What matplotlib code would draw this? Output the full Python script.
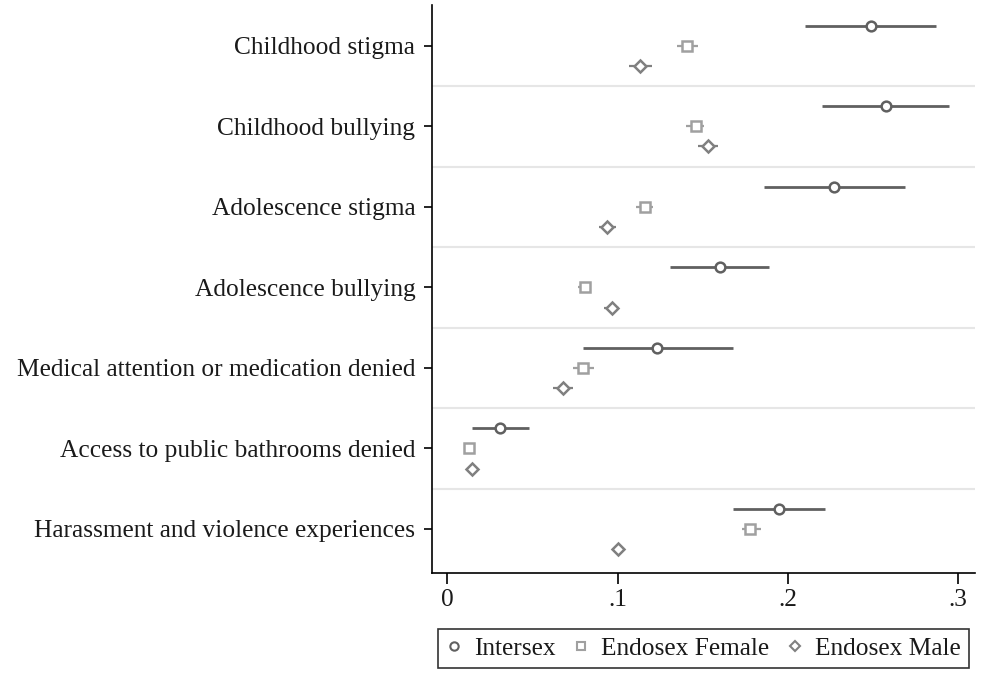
import numpy as np
import matplotlib.pyplot as plt

plt.rcParams['font.family'] = ['Liberation Serif', 'DejaVu Serif']

categories = ["Childhood stigma", "Childhood bullying", "Adolescence stigma",
              "Adolescence bullying", "Medical attention or medication denied",
              "Access to public bathrooms denied", "Harassment and violence experiences"]

# point estimates and confidence bounds
intersex = [0.249, 0.258, 0.227, 0.160, 0.123, 0.031, 0.195]
intersex_lo = [0.210, 0.220, 0.186, 0.131, 0.080, 0.0145, 0.168]
intersex_hi = [0.287, 0.295, 0.269, 0.189, 0.168, 0.048, 0.222]

female = [0.141, 0.146, 0.116, 0.081, 0.080, 0.013, 0.178]
female_lo = [0.135, 0.140, 0.111, 0.077, 0.074, 0.012, 0.173]
female_hi = [0.147, 0.151, 0.121, 0.084, 0.086, 0.014, 0.184]

male = [0.113, 0.153, 0.094, 0.097, 0.068, 0.0145, 0.1004]
male_lo = [0.107, 0.147, 0.089, 0.092, 0.062, 0.013, 0.098]
male_hi = [0.120, 0.159, 0.099, 0.101, 0.074, 0.016, 0.103]

series = [("Intersex", intersex, intersex_lo, intersex_hi, 'o', '#606060', 2.0, -0.25),
          ("Endosex Female", female, female_lo, female_hi, 's', '#a0a0a0', 1.6, 0.0),
          ("Endosex Male", male, male_lo, male_hi, 'D', '#808080', 1.6, 0.25)]

txt = '#1a1a1a'
fs = 18.3
fig = plt.figure(figsize=(10, 6.8), dpi=100)
ax = fig.add_axes([0.432, 0.157, 0.543, 0.836])

pos = np.arange(len(categories))
handles = []
for name, vals, lo, hi, mk, col, lw, off in series:
    vals = np.array(vals)
    err = [vals - np.array(lo), np.array(hi) - vals]
    ms = 6 if mk == 'D' else 7
    ax.errorbar(vals, pos + off, xerr=err, fmt='none', ecolor=col, elinewidth=lw, capsize=0, zorder=2)
    ax.plot(vals, pos + off, linestyle='none', marker=mk, ms=ms, mfc='white', mec=col, mew=1.8, zorder=3)
    h, = ax.plot([], [], linestyle='none', marker=mk, ms=6 if mk != 'D' else 5.5,
                 mfc='white', mec=col, mew=1.5, label=name)
    handles.append(h)

ax.set_ylim(6.55, -0.51)
ax.set_xlim(-0.009, 0.310)
ax.set_yticks(pos)
ax.set_yticklabels(categories, fontsize=fs, color=txt)
ax.set_yticks(pos[:-1] + 0.5, minor=True)
ax.grid(True, which='minor', axis='y', color='#e6e6e6', linewidth=1.5)
ax.tick_params(axis='y', which='minor', length=0)
ax.tick_params(axis='y', which='major', length=6, width=1.2, pad=6)
ax.set_xticks([0, 0.1, 0.2, 0.3])
ax.set_xticklabels(["0", ".1", ".2", ".3"], fontsize=fs, color=txt)
ax.tick_params(axis='x', length=8, width=1.2, pad=3)
ax.spines['top'].set_visible(False)
ax.spines['right'].set_visible(False)
ax.spines['left'].set_linewidth(1.2)
ax.spines['bottom'].set_linewidth(1.2)

leg = fig.legend(handles=handles, loc='center', bbox_to_anchor=(0.7035, 0.0463), ncol=3,
                 fontsize=fs, frameon=True, fancybox=False, edgecolor='black',
                 handlelength=0.6, handletextpad=0.5, columnspacing=0.7, borderpad=0.3,
                 borderaxespad=0)
for t in leg.get_texts():
    t.set_color(txt)
leg.get_frame().set_linewidth(1.2)

fig.savefig("out.png", dpi=100)
